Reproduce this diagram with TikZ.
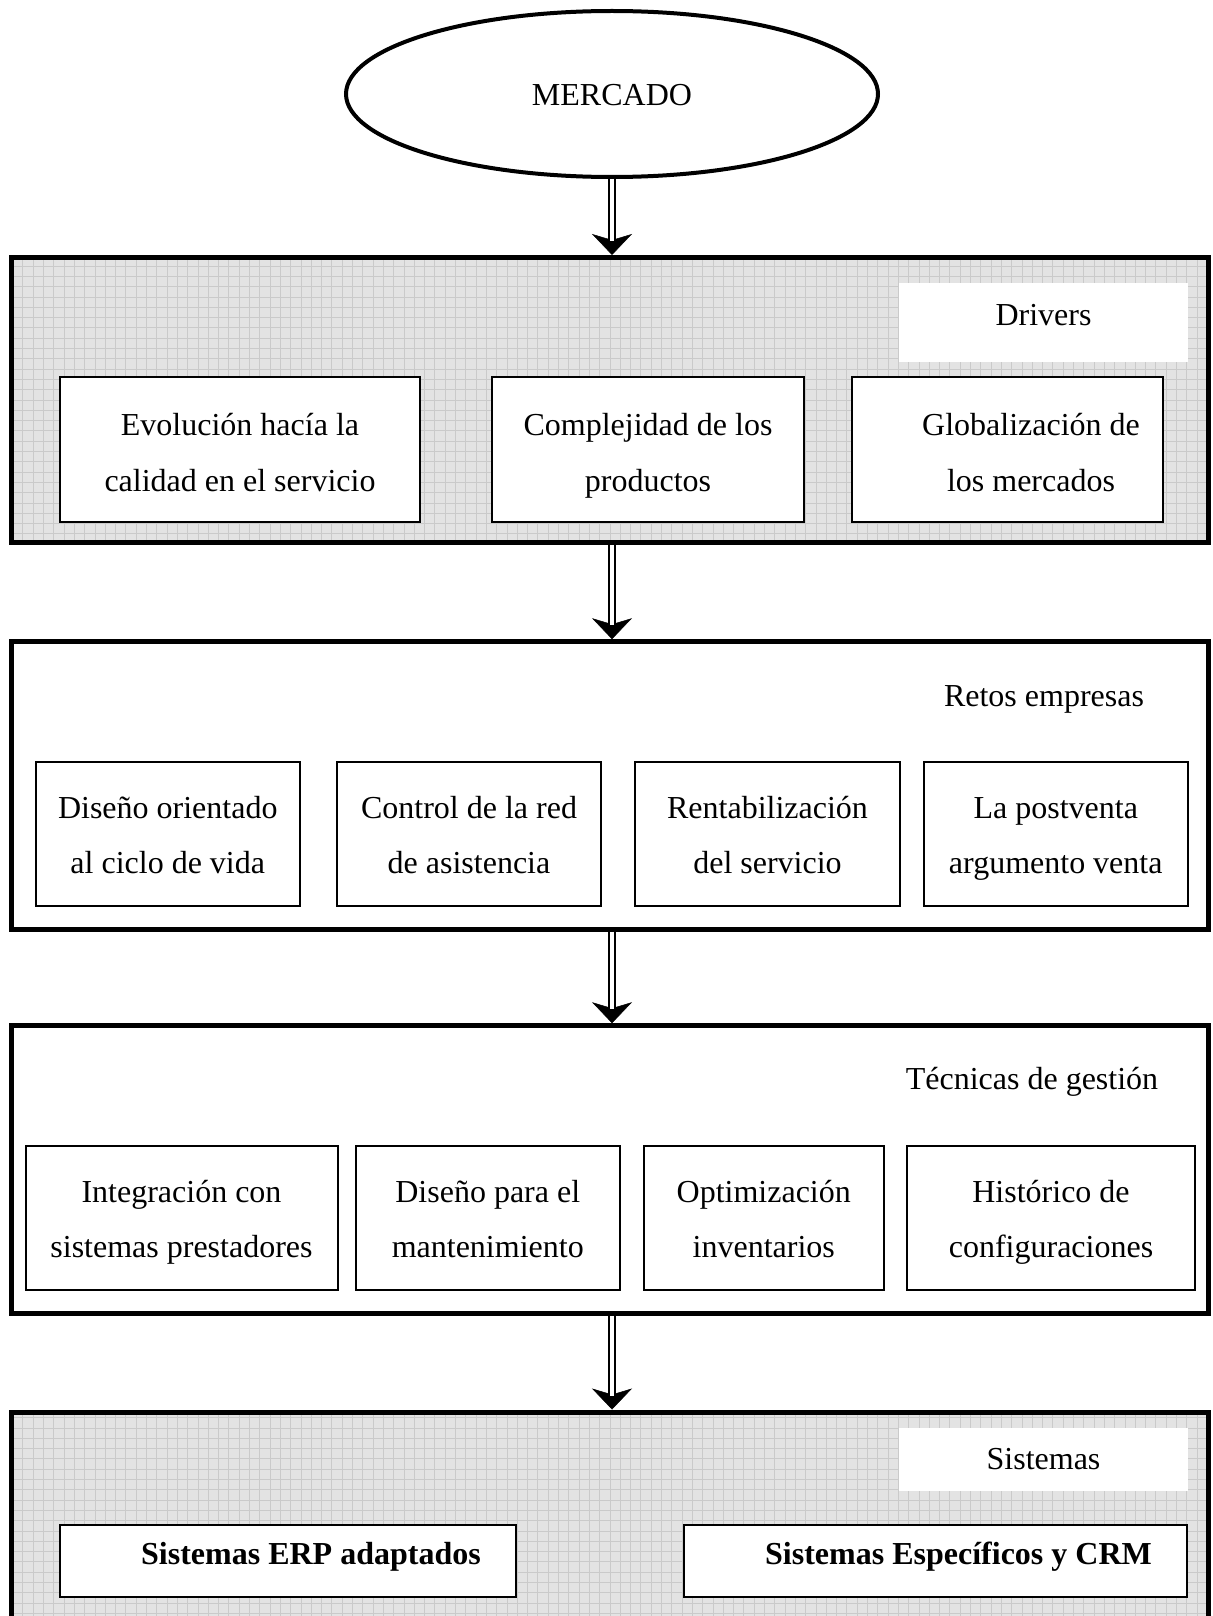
\documentclass[tikz,border=0pt]{standalone}
\usepackage{fontspec}
\setmainfont{Liberation Serif}
\usetikzlibrary{shapes.geometric,arrows.meta}
\definecolor{gridbg}{RGB}{227,227,227}
\definecolor{gridln}{RGB}{202,202,202}
\newcommand\diagfont{\fontsize{32}{38}\selectfont}
\begin{document}
\begin{tikzpicture}[x=1pt,y=-1pt,
  panel/.style={draw, line width=5pt, minimum width=1197pt, inner sep=0pt},
  gridpanel/.style={panel, fill=gridbg,
    path picture={\draw[gridln, line width=1pt]
      (path picture bounding box.south west) grid[step=10.3pt]
      (path picture bounding box.north east);}},
  box/.style={draw, line width=2pt, fill=white, inner sep=0pt},
  tagbox/.style={fill=white, inner sep=0pt, minimum width=289pt},
  txt/.style={inner sep=0pt, anchor=base, font=\diagfont},
  btxt/.style={txt, font=\diagfont\bfseries},
  dshaft/.style={double=white, double distance=3.5pt, line width=2.5pt, shorten >=14pt},
  tiponly/.style={line width=0.5pt,
    -{Stealth[length=21pt,width=40pt,inset=6pt,fill=black]}}
]
\useasboundingbox (0,0) rectangle (1212,1616);
\clip (0,0) rectangle (1212,1616);

% top ellipse
\node[draw, ellipse, line width=4pt, minimum width=532pt, minimum height=166pt, inner sep=0pt] (ell) at (612,94) {};
\node[txt] (mkt) at (612,106) {MERCADO};

% four stacked panels
\node[gridpanel, minimum height=285pt] (p1) at (610,400) {};
\node[panel, minimum height=287.6pt] (p2) at (610,785.5) {};
\node[panel, minimum height=287.6pt] (p3) at (610,1169.5) {};
\node[gridpanel, minimum height=238pt] (p4) at (610,1531) {};

% Drivers
\node[tagbox, minimum height=79pt] (drvtag) at (1043.5,322.5) {};
\node[txt] (drv) at (1043.5,325) {Drivers};
\node[box, minimum width=360pt, minimum height=145pt] (d1) at (240,449.5) {};
\node[box, minimum width=312.5pt, minimum height=145pt] (d2) at (647.75,449.5) {};
\node[box, minimum width=311pt, minimum height=145pt] (d3) at (1007.5,449.5) {};
\node[txt] (d1a) at (240,435.5) {Evolución hacía la};
\node[txt] (d1b) at (240,491) {calidad en el servicio};
\node[txt] (d2a) at (648,435.5) {Complejidad de los};
\node[txt] (d2b) at (648,491) {productos};
\node[txt] (d3a) at (1031,435.5) {Globalización de};
\node[txt] (d3b) at (1031,491) {los mercados};

% Retos empresas
\node[txt] (ret) at (1044,706) {Retos empresas};
\node[box, minimum width=264.5pt, minimum height=144pt] (r1) at (167.75,833.7) {};
\node[box, minimum width=264pt, minimum height=144pt] (r2) at (469,833.7) {};
\node[box, minimum width=265pt, minimum height=144pt] (r3) at (767.5,833.7) {};
\node[box, minimum width=264.5pt, minimum height=144pt] (r4) at (1055.75,833.7) {};
\node[txt] (r1a) at (167.75,818) {Diseño orientado};
\node[txt] (r1b) at (167.75,873) {al ciclo de vida};
\node[txt] (r2a) at (469,818) {Control de la red};
\node[txt] (r2b) at (469,873) {de asistencia};
\node[txt] (r3a) at (767.5,818) {Rentabilización};
\node[txt] (r3b) at (767.5,873) {del servicio};
\node[txt] (r4a) at (1055.75,818) {La postventa};
\node[txt] (r4b) at (1055.75,873) {argumento venta};

% Técnicas de gestión
\node[txt] (tec) at (1032,1089) {Técnicas de gestión};
\node[box, minimum width=312pt, minimum height=144.3pt] (t1) at (181.5,1217.85) {};
\node[box, minimum width=264.5pt, minimum height=144.3pt] (t2) at (487.75,1217.85) {};
\node[box, minimum width=240.5pt, minimum height=144.3pt] (t3) at (763.75,1217.85) {};
\node[box, minimum width=288pt, minimum height=144.3pt] (t4) at (1051,1217.85) {};
\node[txt] (t1a) at (181.5,1202) {Integración con};
\node[txt] (t1b) at (181.5,1257) {sistemas prestadores};
\node[txt] (t2a) at (487.75,1202) {Diseño para el};
\node[txt] (t2b) at (487.75,1257) {mantenimiento};
\node[txt] (t3a) at (763.75,1202) {Optimización};
\node[txt] (t3b) at (763.75,1257) {inventarios};
\node[txt] (t4a) at (1051,1202) {Histórico de};
\node[txt] (t4b) at (1051,1257) {configuraciones};

% Sistemas
\node[tagbox, minimum height=63pt] (sistag) at (1043.5,1459.5) {};
\node[txt] (sis) at (1043.5,1469) {Sistemas};
\node[box, minimum width=456.5pt, minimum height=72pt] (s1) at (287.75,1560.5) {};
\node[box, minimum width=503pt, minimum height=72pt] (s2) at (935.5,1560.5) {};
\node[btxt] (s1a) at (311,1564) {Sistemas ERP adaptados};
\node[btxt] (s2a) at (958.5,1564) {Sistemas Específicos y CRM};

% double-shaft arrows between the levels
\draw[tiponly] (ell.south) -- (ell.south |- p1.north);
\draw[dshaft] (ell.south) -- (ell.south |- p1.north);
\draw[tiponly] (ell.south |- p1.south) -- (ell.south |- p2.north);
\draw[dshaft] (ell.south |- p1.south) -- (ell.south |- p2.north);
\draw[tiponly] (ell.south |- p2.south) -- (ell.south |- p3.north);
\draw[dshaft] (ell.south |- p2.south) -- (ell.south |- p3.north);
\draw[tiponly] (ell.south |- p3.south) -- (ell.south |- p4.north);
\draw[dshaft] (ell.south |- p3.south) -- (ell.south |- p4.north);
\end{tikzpicture}
\end{document}
